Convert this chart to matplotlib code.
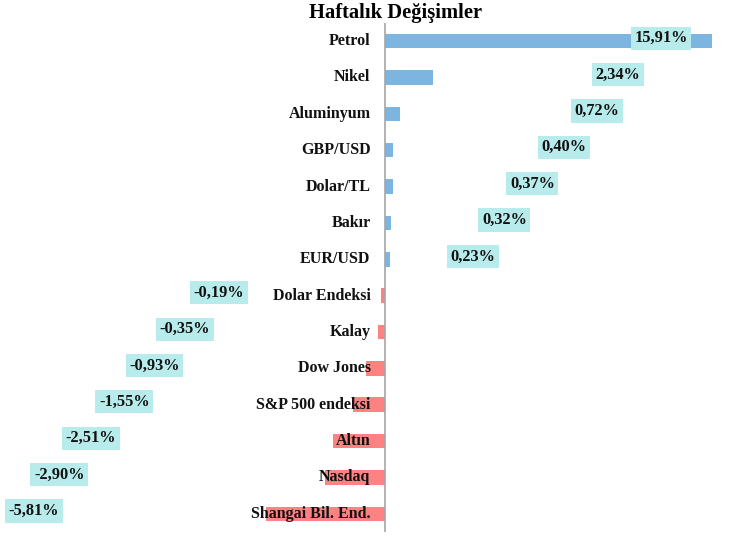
import matplotlib
matplotlib.use('Agg')
import matplotlib.pyplot as plt
import numpy as np

categories = ['Petrol', 'Nikel', 'Aluminyum', 'GBP/USD', 'Dolar/TL', 'Bakır', 'EUR/USD',
              'Dolar Endeksi', 'Kalay', 'Dow Jones', 'S&P 500 endeksi', 'Altın', 'Nasdaq',
              'Shangai Bil. End.']
changes = [15.91, 2.34, 0.72, 0.40, 0.37, 0.32, 0.23,
           -0.19, -0.35, -0.93, -1.55, -2.51, -2.90, -5.81]
# where the value boxes sit (data units), the source chart staggers them
label_pos = [13.44, 11.35, 10.33, 8.72, 7.18, 5.82, 4.29,
             -8.09, -9.74, -11.23, -12.69, -14.32, -15.86, -17.10]

plt.rcParams['font.family'] = ['Liberation Serif', 'DejaVu Serif']

fig = plt.figure(figsize=(7.29, 5.41), dpi=100)
ax = fig.add_axes([0, 0.0166, 1, 0.941])

y = np.arange(len(categories))
colors = ['#7DB5E1' if v >= 0 else '#FF8282' for v in changes]
ax.barh(y, changes, height=0.4, color=colors, zorder=2)

ax.set_xlim(-18.75, 16.76)
ax.set_ylim(len(categories) - 0.5, -0.5)

# category names sit just left of the zero line, over the red bars
for yi, name in zip(y, categories):
    ax.text(-0.7, yi, name, ha='right', va='center', fontsize=11.5,
            fontweight='bold', color='#111111', zorder=3)

for yi, v, xp in zip(y, changes, label_pos):
    txt = f"{v:.2f}%".replace('.', ',')
    ax.text(xp, yi - 0.08, txt, ha='center', va='center', fontsize=11.8,
            fontweight='bold', color='#111111', zorder=4,
            bbox=dict(boxstyle='square,pad=0.22', fc='#B8ECEC', ec='none'))

ax.axvline(0, color='#A6A6A6', lw=1.2, zorder=3)

for s in ax.spines.values():
    s.set_visible(False)
ax.set_xticks([])
ax.set_yticks([])

fig.text(0.542, 0.976, 'Haftalık Değişimler', ha='center', va='center',
         fontsize=14.8, fontweight='bold')

fig.savefig('out.png', dpi=100)
